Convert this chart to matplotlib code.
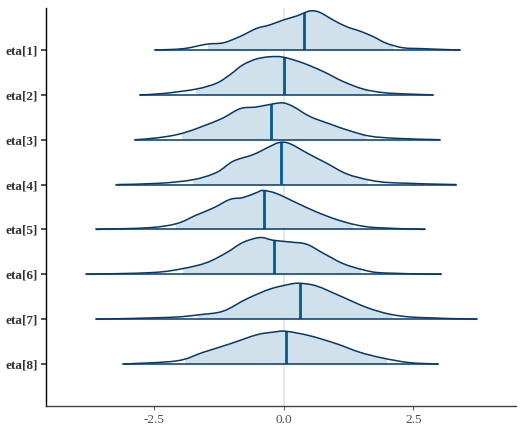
import numpy as np
import matplotlib.pyplot as plt
from matplotlib.path import Path
from matplotlib.patches import PathPatch, Rectangle

# parameter labels (top to bottom)
params = ["eta[1]", "eta[2]", "eta[3]", "eta[4]", "eta[5]", "eta[6]", "eta[7]", "eta[8]"]

# density curves (x value, height in row units)
x1 = [-2.49, -1.94, -1.49, -1.17, -0.85, -0.53, -0.27, -0.01, 0.25, 0.50, 0.69, 0.95, 1.21, 1.47, 1.72, 1.98, 2.30, 2.69, 3.01, 3.40]
d1 = [0, 0.03, 0.13, 0.16, 0.30, 0.48, 0.56, 0.67, 0.76, 0.87, 0.84, 0.67, 0.52, 0.42, 0.30, 0.15, 0.05, 0.03, 0.015, 0]
x2 = [-2.78, -2.33, -1.69, -1.30, -1.04, -0.79, -0.53, -0.27, -0.01, 0.37, 0.76, 1.14, 1.53, 1.92, 2.37, 2.88]
d2 = [0, 0.03, 0.13, 0.26, 0.45, 0.67, 0.80, 0.85, 0.84, 0.71, 0.52, 0.30, 0.13, 0.05, 0.02, 0]
x3 = [-2.88, -2.46, -1.94, -1.24, -0.85, -0.53, -0.21, -0.01, 0.18, 0.50, 0.89, 1.27, 1.66, 2.18, 3.01]
d3 = [0, 0.04, 0.15, 0.45, 0.69, 0.73, 0.80, 0.82, 0.74, 0.52, 0.35, 0.20, 0.08, 0.03, 0]
x4 = [-3.23, -2.39, -1.75, -1.30, -0.98, -0.59, -0.27, -0.08, 0.12, 0.50, 0.82, 1.21, 1.66, 2.11, 3.33]
d4 = [0, 0.03, 0.11, 0.27, 0.52, 0.67, 0.85, 0.94, 0.91, 0.67, 0.48, 0.24, 0.10, 0.04, 0]
x5 = [-3.62, -2.59, -2.07, -1.69, -1.36, -1.04, -0.79, -0.53, -0.40, -0.14, 0.25, 0.63, 1.02, 1.40, 1.79, 2.72]
d5 = [0, 0.04, 0.13, 0.32, 0.48, 0.67, 0.71, 0.82, 0.87, 0.80, 0.59, 0.39, 0.22, 0.10, 0.04, 0]
x6 = [-3.81, -2.52, -1.94, -1.49, -1.11, -0.79, -0.46, -0.21, 0.12, 0.44, 0.76, 1.14, 1.53, 1.92, 3.04]
d6 = [0, 0.04, 0.13, 0.26, 0.48, 0.71, 0.82, 0.76, 0.72, 0.67, 0.47, 0.24, 0.10, 0.03, 0]
x7 = [-3.62, -2.20, -1.62, -1.17, -0.72, -0.27, 0.12, 0.31, 0.63, 1.08, 1.60, 2.05, 2.56, 3.72]
d7 = [0, 0.04, 0.10, 0.18, 0.45, 0.67, 0.78, 0.80, 0.74, 0.52, 0.26, 0.11, 0.04, 0]
x8 = [-3.10, -2.07, -1.56, -1.04, -0.53, -0.21, 0.04, 0.50, 1.02, 1.47, 1.92, 2.43, 2.98]
d8 = [0, 0.07, 0.26, 0.45, 0.65, 0.71, 0.73, 0.63, 0.45, 0.26, 0.13, 0.03, 0]

xs = [x1, x2, x3, x4, x5, x6, x7, x8]
ds = [d1, d2, d3, d4, d5, d6, d7, d8]

# medians and shaded interval bounds
medians = [0.39, 0.0, -0.24, -0.06, -0.39, -0.19, 0.32, 0.04]
lo = [-1.46, -1.69, -1.97, -1.75, -2.08, -1.94, -1.65, -1.91]
hi = [2.11, 1.65, 1.58, 1.63, 1.34, 1.48, 2.08, 1.98]


def smooth_path(x, y, base, closed):
    # bezier segments through the read points (catmull-rom style handles)
    pts = np.column_stack([x, y])
    ext = np.vstack([pts[0], pts, pts[-1]])
    verts = [pts[0]]
    codes = [Path.MOVETO]
    for k in range(len(pts) - 1):
        p0, p1, p2, p3 = ext[k], ext[k + 1], ext[k + 2], ext[k + 3]
        c1 = p1 + (p2 - p0) / 6
        c2 = p2 - (p3 - p1) / 6
        c1[1] = max(c1[1], base)
        c2[1] = max(c2[1], base)
        verts += [c1, c2, p2]
        codes += [Path.CURVE4] * 3
    if closed:
        verts += [(x[0], base), (x[0], base)]
        codes += [Path.LINETO, Path.CLOSEPOLY]
    return Path(verts, codes)


plt.rcParams['font.family'] = ['Liberation Serif', 'DejaVu Serif']

fig = plt.figure(figsize=(5.25, 4.34), dpi=100)
ax = fig.add_axes([0.0876, 0.0645, 0.8954, 0.917])

ax.axvline(0, color='#e3e3e3', lw=1.2, zorder=0)

n = len(params)
for i in range(n):
    y0 = n - i
    x = np.array(xs[i])
    d = np.array(ds[i]) + y0
    area = smooth_path(x, d, y0, True)
    shade = PathPatch(area, facecolor='#d1e1ec', edgecolor='none', zorder=2)
    ax.add_patch(shade)
    shade.set_clip_path(Rectangle((lo[i], y0), hi[i] - lo[i], 1.5, transform=ax.transData))
    med, = ax.plot([medians[i], medians[i]], [y0, y0 + 1.2], color='#005b96', lw=2.0,
                   zorder=3, solid_capstyle='butt')
    med.set_clip_path(PathPatch(area, transform=ax.transData))
    ax.add_patch(PathPatch(smooth_path(x, d, y0, False), facecolor='none',
                           edgecolor='#03396c', lw=1.1, zorder=4))
    ax.plot([x[0], x[-1]], [y0, y0], color='#03396c', lw=1.1, zorder=4)

ax.set_xlim(-4.59, 4.48)
ax.set_ylim(0.064, 8.936)
ax.set_xticks([-2.5, 0.0, 2.5])
ax.set_xticklabels(['-2.5', '0.0', '2.5'])
ax.set_yticks(range(n, 0, -1))
ax.set_yticklabels(params)

for s in ['top', 'right']:
    ax.spines[s].set_visible(False)
ax.spines['left'].set_color('black')
ax.spines['left'].set_linewidth(1.0)
ax.spines['bottom'].set_color('#444444')
ax.spines['bottom'].set_linewidth(1.0)

ax.tick_params(axis='y', length=3.5, width=1.2, color='#333333', pad=2, labelsize=9.5, labelcolor='#333333')
for t in ax.get_yticklabels():
    t.set_fontweight('bold')
ax.tick_params(axis='x', length=3, width=0.8, color='#666666', pad=3, labelsize=9.5, labelcolor='#4d4d4d')

fig.savefig('out.png', dpi=100)
